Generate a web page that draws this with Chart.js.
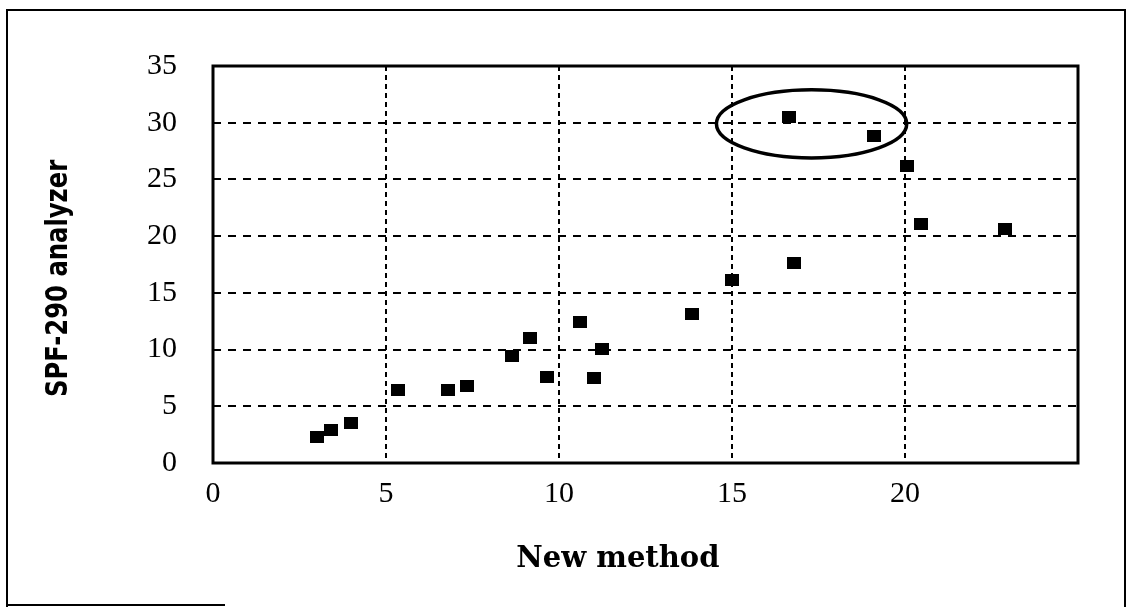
<!DOCTYPE html>
<html>
<head>
<meta charset="utf-8">
<title>SPF-290 analyzer vs New method</title>
<script src="https://cdn.jsdelivr.net/npm/chart.js@4.4.1/dist/chart.umd.min.js"></script>
<style>
    html, body { margin: 0; padding: 0; background: #fff; }
    #wrap { width: 1129px; height: 607px; }
</style>
</head>
<body>
<div id="wrap"><canvas id="chart" width="1129" height="607"></canvas></div>
<script>
/* ============================================================
   DATOS
============================================================ */
const newMethod = [3.0, 3.4, 4.0, 5.35, 6.8, 7.35, 8.65, 9.15, 9.65, 10.6, 11.0, 11.25, 13.85, 15.0, 16.65, 16.8, 19.1, 20.05, 20.45, 22.9];
const spf290    = [2.3, 2.9, 3.5, 6.4, 6.4, 6.8, 9.4, 11.05, 7.55, 12.4, 7.45, 10.05, 13.1, 16.1, 30.5, 17.6, 28.8, 26.2, 21.1, 20.6];

const xTicks = [0, 5, 10, 15, 20];
const yTicks = [0, 5, 10, 15, 20, 25, 30, 35];

const xTitle = "New method";
const yTitle = "SPF-290 analyzer";

// elipse que marca los dos puntos de arriba (unidades de datos)
const circled = { x: 17.3, y: 29.9, rx: 2.75, ry: 3.0 };

/* ============================================================
   MARCADOR — cuadrado negro
============================================================ */
function squareMarker() {
    const c = document.createElement("canvas");
    c.width = 14;
    c.height = 12;
    const g = c.getContext("2d");
    g.fillStyle = "#000";
    g.fillRect(0, 0, 14, 12);
    return c;
}

/* ============================================================
   MARCOS, ELIPSE Y TÍTULOS
============================================================ */
const decor = {
    id: "decor",
    afterDraw(chart) {
        const { ctx, chartArea: a, scales: { x, y } } = chart;
        ctx.save();

        // marco del área de datos
        ctx.strokeStyle = "#000";
        ctx.lineWidth = 3;
        ctx.strokeRect(a.left, a.top, a.right - a.left, a.bottom - a.top);

        // marco exterior
        ctx.lineWidth = 2;
        ctx.beginPath();
        ctx.moveTo(7, 607);
        ctx.lineTo(7, 10);
        ctx.lineTo(1125, 10);
        ctx.lineTo(1125, 607);
        ctx.moveTo(7, 605);
        ctx.lineTo(225, 605);
        ctx.stroke();

        // elipse
        const cx = x.getPixelForValue(circled.x);
        const cy = y.getPixelForValue(circled.y);
        const rx = x.getPixelForValue(circled.x + circled.rx) - cx;
        const ry = cy - y.getPixelForValue(circled.y + circled.ry);
        ctx.lineWidth = 3.5;
        ctx.beginPath();
        ctx.ellipse(cx, cy, rx, ry, 0, 0, Math.PI * 2);
        ctx.stroke();

        // títulos de ejes
        ctx.fillStyle = "#000";
        ctx.textAlign = "center";
        ctx.textBaseline = "middle";
        ctx.font = "bold 29px 'DejaVu Serif'";
        ctx.fillText(xTitle, a.left + (a.right - a.left) * 0.468, a.bottom + 96);

        // título vertical: letra estrecha (se comprime a lo largo del texto)
        ctx.translate(59, a.top + (a.bottom - a.top) * 0.535);
        ctx.rotate(-Math.PI / 2);
        ctx.font = "bold 30px 'DejaVu Sans'";
        const w = ctx.measureText(yTitle).width;
        ctx.scale(237 / w, 1);
        ctx.fillText(yTitle, 0, 0);

        ctx.restore();
    }
};

/* ============================================================
   GRÁFICO
============================================================ */
const tickFont = { family: "'Liberation Serif'", size: 30 };

new Chart(document.getElementById("chart"), {
    type: "scatter",
    data: {
        datasets: [{
            data: newMethod.map((v, i) => ({ x: v, y: spf290[i] })),
            pointStyle: squareMarker(),
            backgroundColor: "#000",
            borderColor: "#000"
        }]
    },
    options: {
        responsive: false,
        animation: false,
        devicePixelRatio: 1,
        layout: { padding: { top: 66, right: 51, left: 0, bottom: 0 } },
        plugins: { legend: { display: false }, tooltip: { enabled: false } },
        scales: {
            x: {
                type: "linear",
                min: 0,
                max: 25,
                afterBuildTicks: s => { s.ticks = xTicks.map(v => ({ value: v })); },
                afterFit: s => { s.height = 144; },
                ticks: { color: "#000", font: tickFont, padding: 13, maxRotation: 0 },
                grid: { color: "#000", lineWidth: 2, drawTicks: false },
                border: { display: false, dash: [5, 4] }
            },
            y: {
                type: "linear",
                min: 0,
                max: 35,
                afterBuildTicks: s => { s.ticks = yTicks.map(v => ({ value: v })); },
                afterFit: s => { s.width = 213; },
                ticks: { color: "#000", font: tickFont, padding: 36 },
                grid: { color: "#000", lineWidth: 2, drawTicks: false },
                border: { display: false, dash: [8, 7] }
            }
        }
    },
    plugins: [decor]
});
</script>
</body>
</html>
